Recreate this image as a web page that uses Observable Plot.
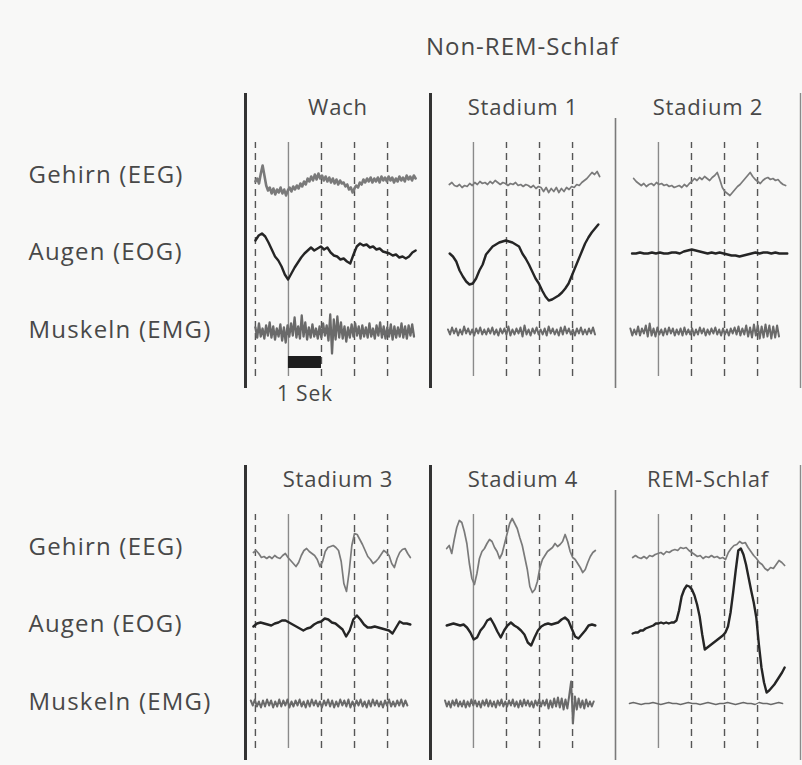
<!DOCTYPE html>
<html><head><meta charset="utf-8">
<script src="https://cdn.jsdelivr.net/npm/d3@7"></script>
<script src="https://cdn.jsdelivr.net/npm/@observablehq/plot@0.6"></script>
<style>
body{margin:0;background:#f8f8f7;font-family:"Open Sans",sans-serif;}
#title{position:relative;height:80px;width:802px;}
#title span{position:absolute;left:245px;width:555px;top:33px;text-align:center;font-size:24px;letter-spacing:1px;color:#484848;line-height:26px;}
#chart svg{display:block;background:transparent;}
#chart svg text{letter-spacing:0.8px;}
#chart svg g.rowlabels text{letter-spacing:1.2px;}
</style></head><body>
<div id="title"><span>Non-REM-Schlaf</span></div>
<div id="chart"></div>
<script>
// ---- categories ----
const panels = ["Wach","Stadium 1","Stadium 2","Stadium 3","Stadium 4","REM-Schlaf"];
const channels = ["Gehirn (EEG)","Augen (EOG)","Muskeln (EMG)"];
// ---- time marks (seconds) ----
const solidSecond = 1;
const dashedSeconds = [[0,2,3,4],[2,3,4],[2,3,4],[0,2,3,4],[2,3,4],[2,3,4]];
const scaleBar = {from: 1, to: 2, label: "1 Sek"};
// ---- trace time spans [start, end] in seconds, per panel, per channel (EEG, EOG, EMG) ----
const spans = [
  [[0,4.85],[0,4.85],[0,4.8]],
  [[0.27,4.82],[0.28,4.78],[0.23,4.68]],
  [[0.25,4.85],[0.2,4.9],[0.15,4.65]],
  [[-0.06,4.69],[-0.06,4.69],[-0.14,4.6]],
  [[0.19,4.69],[0.19,4.69],[0.14,4.64]],
  [[0.22,4.82],[0.22,4.82],[0.12,4.76]]
];
// ---- trace values (deflection, up = positive) ----
const wachEEG = [0,3,-2,8,16,6,-4,-9,-6,-12,-7,-13,-8,-11,-6,-12,-8,-14,-9,-6,-10,-5,-8,-4,-7,-2,-5,0,-3,3,0,5,1,7,2,8,3,6,1,5,0,4,-1,3,-2,2,-3,1,-2,-1,-5,-3,-8,-6,-11,-7,-4,-6,-1,-3,2,-1,3,0,4,-1,3,0,4,-1,5,1,4,0,5,1,4,-1,3,0,5,1,4,0,6,2,5,1,6,3];
const wachEOG = [10,15,17,14,8,1,-6,-10,-16,-24,-29,-23,-17,-12,-7,-3,0,3,0,2,4,1,3,-2,-5,-6,-9,-8,-11,-13,-4,4,7,5,6,3,4,1,2,-1,-2,-3,-5,-4,-7,-6,-8,-6,-2,0];
const wachEMG = [4,-6,8,-5,3,-7,6,-4,9,-6,5,-8,3,-5,7,-9,4,-11,6,-5,8,-4,14,-6,5,-7,16,-5,9,-8,4,-6,7,-5,3,-7,5,-6,8,-4,6,-9,17,-22,12,-8,15,-6,9,-7,5,-10,4,-6,7,-5,8,-4,5,-7,6,-5,4,-6,8,-5,3,-7,6,-4,9,-6,5,-7,4,-5,7,-8,5,-6,4,-5,8,-6,5,-7,6,-4,7,-5];
const st1EEG = [-3,-1,-4,-5,-3,-6,-4,-5,-2,-4,-1,-3,0,-2,-1,-3,0,-2,1,-1,-3,-1,-2,-4,-2,-3,-1,-4,-3,-5,-3,-4,-6,-4,-7,-5,-6,-10,-6,-11,-7,-10,-6,-11,-7,-10,-6,-8,-5,-6,-3,-4,-1,1,3,6,9,7,10,5];
const st1EOG = [-3,-6,-11,-20,-26,-31,-34,-33,-28,-20,-14,-4,0,4,6,8,9,10,9,8,6,4,-3,-8,-14,-21,-28,-33,-40,-46,-50,-49,-47,-45,-42,-38,-33,-25,-17,-9,-1,7,13,18,22,26];
const st1EMG = [2,-3,4,-2,3,-4,2,-3,5,-2,3,-3,2,-4,3,-2,4,-3,2,-3,3,-2,4,-3,2,-4,3,-2,3,-3,5,-4,2,-3,3,-2,4,-5,6,-3,2,-4,3,-2,4,-3,2,-3,3,-4,5,-2,3,-3,2,-4,4,-3,5,-2,3,-3,2,-4,3,-2,4,-3,2,-3,3,-2,4,-3];
const st2EEG = [3,0,-2,-4,-2,-5,-3,-2,-4,-1,-3,-2,-4,-3,-5,-4,-6,-5,-4,-6,-3,-5,-2,0,3,1,4,2,5,3,1,4,6,9,2,-6,-10,-12,-14,-11,-8,-5,-3,0,3,6,9,5,2,0,-2,1,3,4,2,3,1,2,-1,-3,-4];
const st2EOG = [-3,-3,-2,-3,-3,-2,-3,-2,-3,-3,-2,-2,-3,-1,0,1,0,-1,-2,-3,-2,-3,-2,-3,-4,-5,-5,-6,-5,-4,-3,-2,-3,-2,-2,-3,-2,-3,-3,-3];
const st2EMG = [3,-4,2,-3,5,-4,3,-2,6,-5,8,-4,3,-5,4,-3,2,-4,3,-3,4,-2,3,-4,2,-3,3,-4,4,-3,2,-3,3,-4,2,-3,4,-2,3,-4,2,-3,3,-2,4,-3,2,-4,3,-3,2,-4,3,-2,4,-3,5,-4,3,-3,6,-5,4,-6,7,-4,6,-7,5,-6,7,-5,6,-7,5,-6,6,-5];
const st3EEG = [1,3,0,-4,-3,-5,-3,-5,-2,-4,-5,-2,0,-4,-7,-10,-13,-9,-2,3,5,2,0,-2,-6,-13,-8,2,6,7,8,6,3,-8,-30,-38,-18,8,20,19,14,9,3,-3,-6,-10,-8,-5,-1,3,1,-2,-10,-14,-5,1,4,5,0,-4];
const st3EOG = [-4,-1,0,-1,-2,-3,-1,0,2,2,0,-2,-4,-6,-8,-6,-5,-2,0,1,4,3,0,-1,-4,-7,-14,-8,3,7,3,-2,-5,-5,-4,-5,-6,-7,-8,-11,-5,1,-1,-1,-2];
const st3EMG = [3,-2,4,-3,2,-4,3,-3,4,-2,3,-4,2,-3,4,-3,3,-2,4,-4,2,-3,3,-2,4,-3,2,-4,3,-3,4,-2,3,-3,2,-4,3,-2,4,-3,3,-4,2,-3,4,-2,3,-3,4,-4,2,-3,3,-2,4,-3,2,-4,3,-3,4,-2,3,-3,2,-4,3,-2,4,-3,2,-3,3,-2,4,-3,3,-2];
const st4EEG = [5,8,0,14,26,33,31,22,10,-10,-25,-31,-20,-5,2,5,10,14,12,6,2,-5,0,10,20,30,35,30,25,16,8,-4,-16,-33,-39,-36,-28,-14,-6,-2,2,4,6,10,7,9,12,19,12,2,-4,-6,-10,-14,-19,-16,-9,-3,1,3];
const st4EOG = [-3,-2,-1,-2,-3,-2,-5,-10,-17,-15,-8,-4,2,4,-2,-9,-15,-8,-3,0,-3,-5,-8,-12,-20,-23,-15,-8,-4,-2,-1,-2,-1,0,3,5,2,-6,-14,-16,-12,-8,-3,-2,-3];
const st4EMG = [3,-3,2,-4,3,-2,4,-3,2,-3,3,-4,2,-3,4,-2,3,-3,2,-4,3,-2,4,-3,3,-3,2,-4,3,-2,4,-3,2,-3,3,-2,4,-3,2,-4,3,-3,4,-2,3,-3,2,-4,3,-2,4,-3,3,-2,4,-5,3,-4,5,-3,6,-4,5,-6,4,-5,8,22,-20,7,-6,5,-4,3,-5,4,-3,2,-3,2];
const remEEG = [-4,-2,-4,-5,-3,-5,-2,-3,-1,0,1,-1,2,1,3,4,3,6,5,6,3,1,-1,-3,-2,-5,-3,-4,-2,-4,-3,-5,-4,-6,1,5,8,9,12,10,11,6,2,-2,-5,-9,-11,-15,-17,-14,-15,-11,-7,-9,-12];
const remEOG = [-11,-10,-10,-8,-8,-6,-5,-4,-3,-1,-1,0,-1,0,-1,0,0,2,12,26,33,37,36,33,27,18,6,-12,-27,-25,-23,-21,-19,-17,-15,-13,-10,-4,10,30,52,72,74,68,58,45,32,20,5,-22,-45,-60,-70,-68,-65,-62,-58,-54,-50,-45];
const remEMG = [0,1,0,-1,0,0,1,0,-1,0,1,0,0,-1,0,1,0,0,-1,0,1,0,-1,0,0,1,0,-1,0,1,0,0,-1,1,0,0,-1,0,1,0];
const traceValues = [
  [wachEEG, wachEOG, wachEMG],
  [st1EEG, st1EOG, st1EMG],
  [st2EEG, st2EOG, st2EMG],
  [st3EEG, st3EOG, st3EMG],
  [st4EEG, st4EOG, st4EMG],
  [remEEG, remEOG, remEMG]
];

// ---- layout / style (not data) ----
const L = {
  width: 802, height: 685, marginLeft: 245, marginRight: 2, marginTop: 13, marginBottom: 5,
  xDomain: [-0.3, 5.3], yDomain: [0, 295],
  baselines: [207, 138, 57], labelDy: [-6, 1.5, -1], labelDx: -217, gridFrom: 12, gridTo: 246, thinTop: 270,
  font: "'Open Sans', sans-serif", textColor: "#484848"
};
const chStroke = ["#7a7a7a", "#252525", "#6a6a6a"];
const chWidth = [1.7, 2.4, 2.0];
// panel-specific emphasis (Wach has the thickest, noisiest band)
const widthFor = (i, c) => (i === 0 && c === 0) ? 2.6 : (i === 0 && c === 2) ? 2.3 : (i === 5 && c === 2) ? 1.3 : chWidth[c];

const col = i => i % 3, row = i => Math.floor(i / 3);
const panelRows = panels.map((p, i) => ({panel: p, i, col: col(i), row: row(i)}));
const points = [];
traceValues.forEach((chs, i) => chs.forEach((vals, c) => {
  const [t0, t1] = spans[i][c];
  vals.forEach((v, k) => points.push({i, c, t: t0 + (t1 - t0) * k / (vals.length - 1), v}));
}));
const dashRows = dashedSeconds.flatMap((ts, i) => ts.map(t => ({i, t})));
const labelRows = [0, 1].flatMap(r => channels.map((name, c) => ({r, c, name})));

const facetI = {fx: d => col(d.i), fy: d => row(d.i)};
const traceMarks = [];
[2, 0, 1].forEach(c => panels.forEach((p, i) => {
  traceMarks.push(Plot.lineY(points.filter(d => d.c === c && d.i === i), {
    ...facetI, x: "t", y: d => L.baselines[d.c] + d.v,
    stroke: chStroke[c], strokeWidth: widthFor(i, c), strokeLinejoin: "round"
  }));
}));
const labelMarks = channels.map((name, c) => Plot.text(labelRows.filter(d => d.c === c), {
  fx: () => 0, fy: "r", x: L.xDomain[0], y: d => L.baselines[d.c], dx: L.labelDx, dy: L.labelDy[c],
  text: "name", textAnchor: "start", fontSize: 24, fill: L.textColor, lineAnchor: "middle", className: "rowlabels"
}));

const plot = Plot.plot({
  width: L.width, height: L.height,
  marginLeft: L.marginLeft, marginRight: L.marginRight, marginTop: L.marginTop, marginBottom: L.marginBottom,
  style: {fontFamily: L.font, background: "transparent", overflow: "visible"},
  fx: {domain: [0, 1, 2], axis: null, paddingInner: 0, paddingOuter: 0},
  fy: {domain: [0, 1], axis: null, paddingInner: 0.207, paddingOuter: 0},
  x: {domain: L.xDomain, axis: null},
  y: {domain: L.yDomain, axis: null},
  marks: [
    // panel separators
    Plot.ruleX(panelRows.filter(d => d.col < 2), {fx: "col", fy: "row", x: L.xDomain[0], y1: L.yDomain[0], y2: L.yDomain[1], stroke: "#333", strokeWidth: 3}),
    Plot.ruleX(panelRows.filter(d => d.col === 2), {fx: "col", fy: "row", x: L.xDomain[0], y1: L.yDomain[0], y2: L.thinTop, stroke: "#7a7a7a", strokeWidth: 1.6}),
    Plot.ruleX(panelRows.filter(d => d.col === 2), {fx: "col", fy: "row", x: L.xDomain[1], y1: L.yDomain[0], y2: L.yDomain[1], stroke: "#8a8a8a", strokeWidth: 1.4}),
    // second grid
    Plot.ruleX(dashRows, {...facetI, x: "t", y1: L.gridFrom, y2: L.gridTo, stroke: "#555", strokeWidth: 1.4, strokeDasharray: "7,5"}),
    Plot.ruleX(panelRows, {fx: "col", fy: "row", x: solidSecond, y1: L.gridFrom, y2: L.gridTo, stroke: "#8a8a8a", strokeWidth: 1.4}),
    // traces
    ...traceMarks,
    // scale bar
    Plot.rect([scaleBar], {fx: () => 0, fy: () => 0, x1: "from", x2: "to", y1: 20, y2: 32, fill: "#1e1e1e"}),
    Plot.text([scaleBar], {fx: () => 0, fy: () => 0, x: d => (d.from + d.to) / 2, y: -6, text: "label", fontSize: 21, fill: L.textColor, lineAnchor: "middle"}),
    // panel titles
    Plot.text(panelRows, {fx: "col", fy: "row", frameAnchor: "top", dy: 14, text: "panel", fontSize: 22, fill: L.textColor, lineAnchor: "middle"}),
    // row labels
    ...labelMarks
  ]
});
document.getElementById("chart").appendChild(plot);
</script></body></html>
